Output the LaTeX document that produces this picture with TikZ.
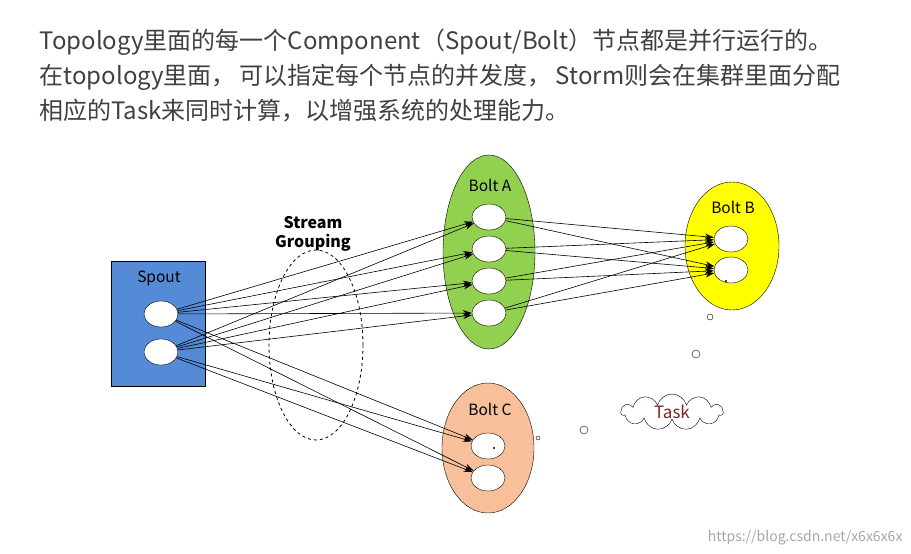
\documentclass[tikz,border=0pt]{standalone}
\usepackage{fontspec}
\setmainfont{Noto Sans CJK SC}
\usetikzlibrary{shapes.symbols,shapes.geometric,arrows.meta}
\begin{document}
\begin{tikzpicture}[x=1pt,y=-1pt,
  slot/.style={ellipse,draw,fill=white,minimum width=34pt,minimum height=26pt,inner sep=0pt},
  bolt/.style={ellipse,draw,inner sep=0pt},
  arr/.style={-{Stealth[length=9pt,width=6pt]},line width=0.6pt},
  lab/.style={font=\fontsize{15.5}{15.5}\selectfont},
  head/.style={anchor=west,text=black!75,font=\fontsize{24}{24}\selectfont}]
\useasboundingbox (0,0) rectangle (911,554);
\node[head] (t1) at (36,42) {Topology里面的每一个Component（Spout/Bolt）节点都是并行运行的。};
\node[head] (t2) at (36,77) {在topology里面，\,可以指定每个节点的并发度，\,Storm则会在集群里面分配};
\node[head] (t3) at (36,111) {相应的Task来同时计算，以增强系统的处理能力。};
% spout
\node[draw,fill={rgb,255:red,84;green,138;blue,214},minimum width=94pt,minimum height=125pt,inner sep=0pt] (sp) at (158,324) {};
\node[lab] (spl) at (159,278) {Spout};
\node[slot] (s1) at (161,314) {};
\node[slot] (s2) at (161,352) {};
% bolts
\node[bolt,fill={rgb,255:red,146;green,208;blue,80},minimum width=92pt,minimum height=194pt] (A) at (489,252) {};
\node[lab] (Al) at (490,185) {Bolt A};
\foreach \i/\y in {1/217,2/249,3/281,4/313} \node[slot] (a\i) at (489,\y) {};
\node[bolt,fill={rgb,255:red,255;green,255;blue,0},minimum width=94pt,minimum height=128pt] (B) at (732,246) {};
\node[lab] (Bl) at (733,207) {Bolt B};
\node[slot] (b1) at (731,239) {};
\node[slot] (b2) at (731,270) {};
\node[bolt,fill={rgb,255:red,248;green,192;blue,154},minimum width=92pt,minimum height=130pt] (C) at (488,448) {};
\node[lab] (Cl) at (490,409) {Bolt C};
\node[slot] (c1) at (488,446) {};
\node[slot] (c2) at (488,478) {};
\fill (494,448) circle (1.2pt);
\fill (726,281) circle (1.2pt);
% grouping
\node[ellipse,draw,dashed,line width=0.8pt,minimum width=94pt,minimum height=190pt] (g) at (316,345) {};
\node[font=\bfseries\fontsize{16}{16}\selectfont] (g1) at (313,223) {Stream};
\node[font=\bfseries\fontsize{16}{16}\selectfont] (g2) at (313,243) {Grouping};
% arrows
\foreach \s in {s1,s2} {
  \foreach \a in {a1,a2,a3,a4} \draw[arr] (\s) -- (\a);
  \foreach \c in {c1,c2} \draw[arr] (\s) -- (\c);
}
\foreach \a in {a1,a2,a3,a4} \foreach \b in {b1,b2} \draw[arr] (\a) -- (\b);
% task cloud
\node[cloud,draw,cloud puffs=11,aspect=2.6,minimum width=102pt,minimum height=36pt,inner sep=0pt,text={rgb,255:red,120;green,40;blue,30},font=\fontsize{17}{17}\selectfont] (task) at (672,412) {Task};
\node[circle,draw,minimum size=6pt,inner sep=0pt] (d1) at (710,317) {};
\node[circle,draw,minimum size=8pt,inner sep=0pt] (d2) at (696,354) {};
\node[circle,draw,minimum size=8pt,inner sep=0pt] (d3) at (584,430) {};
\node[circle,draw,minimum size=4pt,inner sep=0pt] (d4) at (538,438) {};
\node[anchor=east,text=black!35,font=\fontsize{14}{14}\selectfont] (wm) at (906,538) {https://blog.csdn.net/x6x6x6x};
\end{tikzpicture}
\end{document}
